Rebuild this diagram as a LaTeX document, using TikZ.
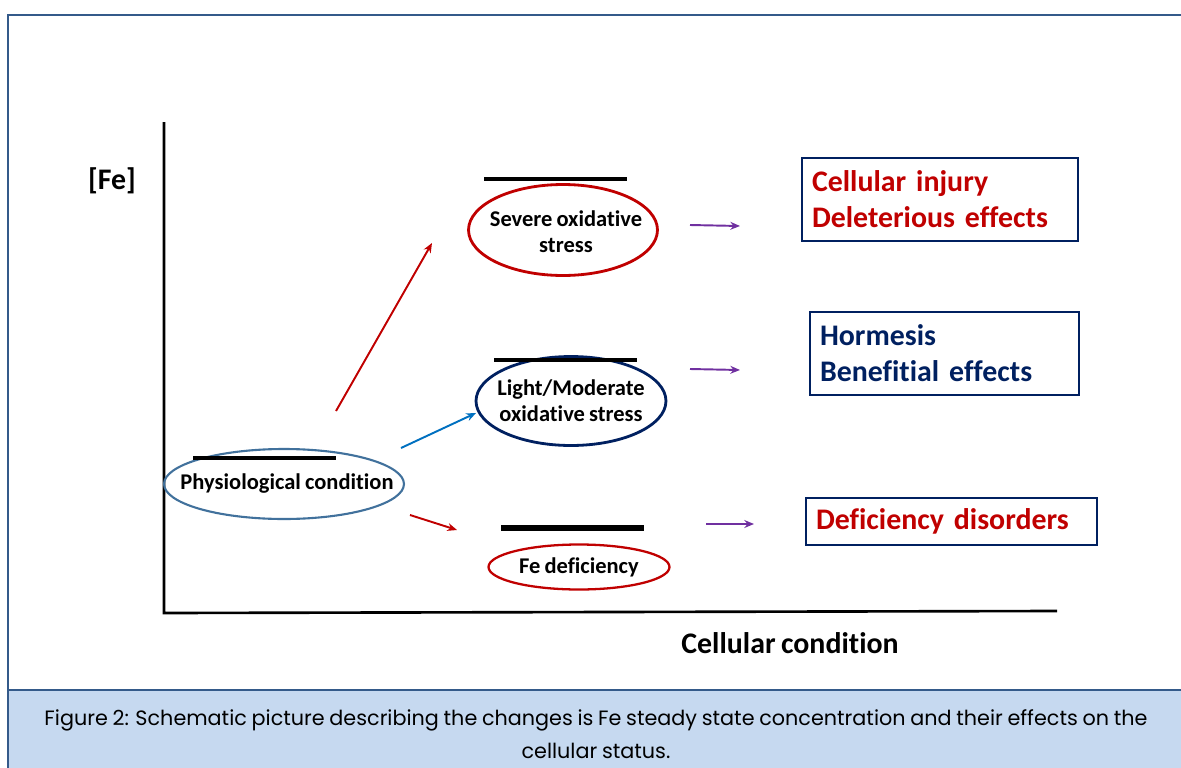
\documentclass[tikz,border=0pt]{standalone}
\usepackage{fontspec}
\setmainfont{Carlito}[Ligatures=NoCommon, WordSpace=0.8]
\newfontfamily\capfont{Poppins}[WordSpace=0.85]
\usepackage{tikz}
\usetikzlibrary{arrows.meta, positioning, shapes.geometric}
\definecolor{frameblue}{RGB}{52,90,138}
\definecolor{capblue}{RGB}{198,217,240}
\definecolor{fered}{RGB}{192,0,0}
\definecolor{fenavy}{RGB}{0,32,96}
\definecolor{festeel}{RGB}{65,113,156}
\definecolor{feblue}{RGB}{0,112,192}
\definecolor{fepurple}{RGB}{112,48,160}

\begin{document}
\begin{tikzpicture}[x=0.02cm, y=-0.02cm, >={Stealth[length=5.5pt, width=4.5pt]},
    state/.style={inner sep=0pt, align=center,
        font=\bfseries\fontsize{12.8}{15}\selectfont},
    ring/.style={line width=1.6pt},
    level/.style={line width=2.6pt, black},
    effect/.style={draw=fenavy, line width=1.4pt, align=left, inner xsep=0.2cm,
        font=\bfseries\fontsize{17}{20.5}\selectfont},
    link/.style={->, line width=1.1pt}]
    \useasboundingbox (0,0) rectangle (1181,768);

    % --- Cadre et légende ---
    \fill[capblue] (8,690) rectangle (1181,768);
    \draw[frameblue, line width=1.2pt] (8,768) -- (8,15) -- (1181,15);
    \draw[frameblue, line width=1.2pt] (8,690) -- (1181,690);
    \node[font=\capfont\fontsize{11.8}{19}\selectfont, align=center] (caption) at (596,734)
        {Figure 2: Schematic picture describing the changes is Fe steady state concentration and their effects on the\\
         cellular status.};

    % --- Axes ---
    \coordinate (ytop) at (164,122);
    \coordinate (origin) at (164,613);
    \coordinate (xend) at (1057,611);
    \draw[line width=1.5pt] (ytop) -- (origin) -- (xend);
    \node[font=\bfseries\fontsize{17}{20}\selectfont] (feaxis) at (112,181) {[Fe]};
    \node[font=\bfseries\fontsize{17}{20}\selectfont] (cellaxis) at (790,643) {Cellular condition};

    % --- Etats ---
    \node[state] (phys) at (287,484) {Physiological condition};
    \node[state] (severe) at (566,232) {Severe oxidative\\stress};
    \node[state] (light) at (571,401) {Light/Moderate\\oxidative stress};
    \node[state] (defic) at (579,567) {Fe deficiency};
    \draw[ring, festeel, line width=1.2pt] ([xshift=-0.06cm]phys.center) ellipse (2.4cm and 0.7cm);
    \draw[ring, fered] ([xshift=-0.06cm, yshift=0.04cm]severe.center) ellipse (1.89cm and 0.91cm);
    \draw[ring, fenavy] (light.center) ellipse (1.9cm and 0.89cm);
    \draw[ring, fered, line width=1.3pt] (defic.center) ellipse (1.81cm and 0.45cm);

    % Niveaux de fer
    \draw[level] (193,458) -- (336,458);
    \draw[level] (484,179) -- (627,179);
    \draw[level] (494,360) -- (637,360);
    \draw[level, line width=3pt] (501,528) -- (644,528);

    % --- Effets ---
    \node[effect, text=fered, minimum width=5.52cm, minimum height=1.66cm, text width=5.12cm]
        (injury) at (940,199.5) {Cellular injury\\Deleterious effects};
    \node[effect, text=fenavy, minimum width=5.38cm, minimum height=1.66cm, text width=4.98cm]
        (hormesis) at (944.5,353.5) {Hormesis\\Benefitial effects};
    \node[effect, text=fered, minimum width=5.82cm, minimum height=0.94cm, text width=5.42cm]
        (disorder) at (951.5,521.5) {Deficiency disorders};

    % --- Fleches ---
    \coordinate (up0) at (336,411);
    \coordinate (up1) at (432,243);
    \coordinate (mid0) at (401,448);
    \coordinate (mid1) at (476,413);
    \coordinate (dn0) at (410,515);
    \coordinate (dn1) at (457,530);
    \draw[link, fered] (up0) -- (up1);
    \draw[link, feblue] (mid0) -- (mid1);
    \draw[link, fered] (dn0) -- (dn1);

    \coordinate (e1a) at (690,225);
    \coordinate (e1b) at (740,226);
    \coordinate (e2a) at (690,369);
    \coordinate (e2b) at (740,370);
    \coordinate (e3a) at (706,524);
    \coordinate (e3b) at (754,524);
    \draw[link, fepurple] (e1a) -- (e1b);
    \draw[link, fepurple] (e2a) -- (e2b);
    \draw[link, fepurple] (e3a) -- (e3b);
\end{tikzpicture}
\end{document}
